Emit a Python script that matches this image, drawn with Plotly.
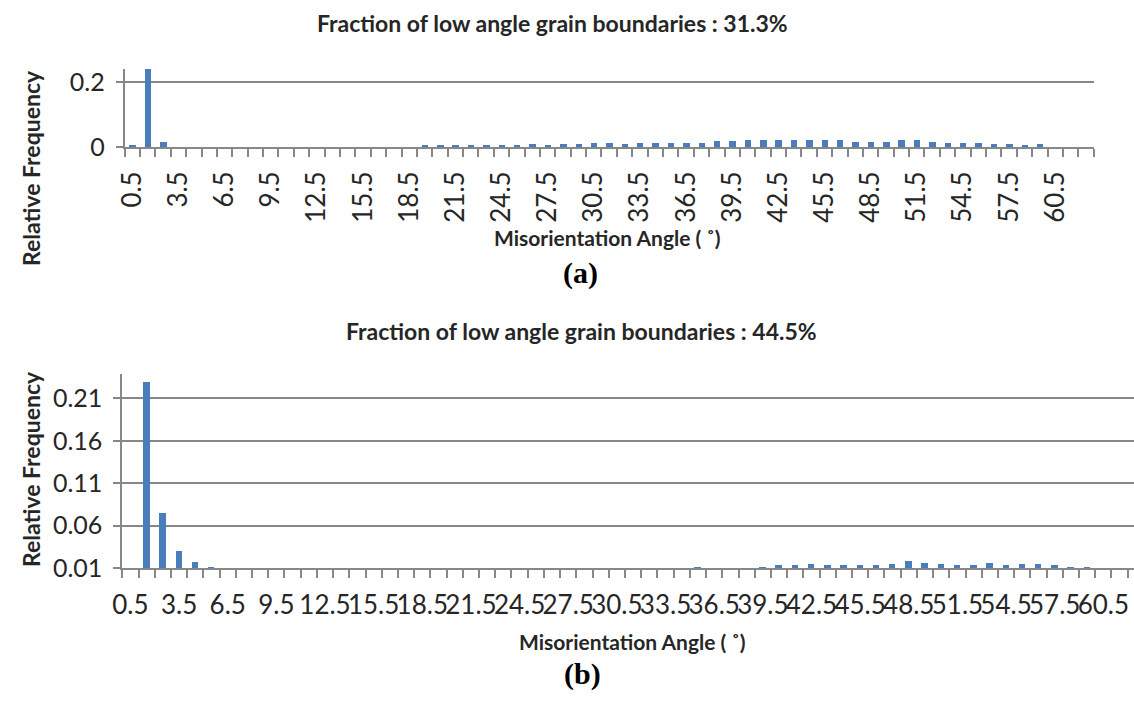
import plotly.graph_objects as go

# Misorientation angle bins (degrees), bin centres
angles = [0.5, 1.5, 2.5, 3.5, 4.5, 5.5, 6.5, 7.5, 8.5, 9.5,
          10.5, 11.5, 12.5, 13.5, 14.5, 15.5, 16.5, 17.5, 18.5, 19.5,
          20.5, 21.5, 22.5, 23.5, 24.5, 25.5, 26.5, 27.5, 28.5, 29.5,
          30.5, 31.5, 32.5, 33.5, 34.5, 35.5, 36.5, 37.5, 38.5, 39.5,
          40.5, 41.5, 42.5, 43.5, 44.5, 45.5, 46.5, 47.5, 48.5, 49.5,
          50.5, 51.5, 52.5, 53.5, 54.5, 55.5, 56.5, 57.5, 58.5, 59.5,
          60.5, 61.5, 62.5]

# Labelled ticks (every third bin)
tick_angles = [0.5, 3.5, 6.5, 9.5, 12.5, 15.5, 18.5, 21.5, 24.5, 27.5, 30.5,
               33.5, 36.5, 39.5, 42.5, 45.5, 48.5, 51.5, 54.5, 57.5, 60.5]
tick_labels = ["0.5", "3.5", "6.5", "9.5", "12.5", "15.5", "18.5", "21.5",
               "24.5", "27.5", "30.5", "33.5", "36.5", "39.5", "42.5", "45.5",
               "48.5", "51.5", "54.5", "57.5", "60.5"]

# (a) relative frequency per bin
freq_a = [0.007, 0.242, 0.015, 0, 0, 0, 0, 0, 0, 0,
          0, 0, 0, 0, 0, 0, 0, 0, 0, 0.006,
          0.006, 0.006, 0.006, 0.006, 0.006, 0.006, 0.010, 0.006, 0.010, 0.010,
          0.014, 0.014, 0.010, 0.014, 0.014, 0.014, 0.014, 0.014, 0.018, 0.018,
          0.021, 0.021, 0.021, 0.021, 0.021, 0.021, 0.021, 0.017, 0.017, 0.017,
          0.021, 0.021, 0.017, 0.013, 0.013, 0.013, 0.009, 0.009, 0.005, 0.009,
          0, 0, 0]

# (b) relative frequency per bin
freq_b = [0.006, 0.229, 0.075, 0.030, 0.017, 0.012, 0.008, 0, 0, 0,
          0, 0, 0, 0, 0, 0, 0, 0, 0, 0,
          0, 0, 0, 0, 0, 0, 0, 0, 0, 0,
          0, 0, 0, 0, 0, 0.012, 0, 0, 0, 0.012,
          0.0135, 0.0135, 0.015, 0.0135, 0.0135, 0.0135, 0.0135, 0.015, 0.018, 0.0165,
          0.015, 0.0135, 0.0135, 0.0165, 0.0135, 0.015, 0.015, 0.0135, 0.012, 0.012,
          0, 0, 0]

title_a = "Fraction of low angle grain boundaries : 31.3%"
title_b = "Fraction of low angle grain boundaries : 44.5%"
x_title = "Misorientation Angle ( \u02da)"
y_title = "Relative Frequency"

W, H = 1134, 703
BAR = "#4a7ebb"
GREY = "#878787"
FONT = "Lato"
TXT = "#262626"


def px(x):
    return x / W


def py(y):
    return 1 - y / H


fig = go.Figure()
fig.add_trace(go.Bar(x=angles, y=freq_a, width=0.42, marker_color=BAR,
                     marker_line_width=0, xaxis="x", yaxis="y", showlegend=False))
fig.add_trace(go.Bar(x=angles, y=freq_b, width=0.40, marker_color=BAR,
                     marker_line_width=0, xaxis="x2", yaxis="y2", showlegend=False))

common_x = dict(
    showline=True, linecolor=GREY, linewidth=2, showgrid=False, zeroline=False,
    tickmode="array", tickvals=tick_angles, ticktext=tick_labels, ticks="",
    tickfont=dict(family=FONT, size=26, color=TXT),
    minor=dict(ticks="outside", tickmode="linear", tick0=0, dtick=1,
               ticklen=8, tickwidth=2, tickcolor=GREY, showgrid=False),
)
common_y = dict(
    showline=True, linecolor=GREY, linewidth=2, showgrid=True, gridcolor=GREY,
    gridwidth=2, zeroline=False, ticks="outside", ticklen=7, tickwidth=2,
    tickcolor=GREY, tickfont=dict(family=FONT, size=25, color=TXT),
    ticklabelstandoff=6,
)

fig.update_layout(
    width=W, height=H, margin=dict(l=0, r=0, t=0, b=0),
    paper_bgcolor="white", plot_bgcolor="white", bargap=0,
    xaxis=dict(common_x, domain=[px(115.7), px(1093.3)], range=[0, 63],
               tickangle=-90, ticklabelstandoff=12, anchor="y"),
    yaxis=dict(common_y, domain=[py(148.3), py(68.4)], range=[0, 0.242],
               tickvals=[0, 0.2], ticktext=["0", "0.2"], anchor="x"),
    xaxis2=dict(common_x, domain=[px(113.3), 1.0], range=[0, 62.39],
                tickangle=0, ticklabelstandoff=13, anchor="y2"),
    yaxis2=dict(common_y, domain=[py(579.3), py(380.5)], range=[0.01, 0.239],
                tickvals=[0.01, 0.06, 0.11, 0.16, 0.21],
                ticktext=["0.01", "0.06", "0.11", "0.16", "0.21"], anchor="x2"),
)

title_font = dict(family=FONT, size=23, color=TXT)
axis_font = dict(family=FONT, size=21, color=TXT)
ytitle_font = dict(family=FONT, size=23, color=TXT)
serif = dict(family="Liberation Serif", size=30, color="black")


def note(text, x, y, font, angle=0):
    fig.add_annotation(text=text, x=px(x), y=py(y), xref="paper", yref="paper",
                       xanchor="center", yanchor="middle", showarrow=False,
                       font=font, textangle=angle)


note("<b>" + title_a + "</b>", 547, 22, title_font)
note("<b>" + y_title + "</b>", 21, 170, ytitle_font, -90)
note("<b>" + x_title + "</b>", 603, 241, axis_font)
note("<b>(a)</b>", 576, 277, serif)

note("<b>" + title_b + "</b>", 577, 337, title_font)
note("<b>" + y_title + "</b>", 21, 478, ytitle_font, -90)
note("<b>" + x_title + "</b>", 628, 654, axis_font)
note("<b>(b)</b>", 578, 688, serif)

fig.write_html("out.html")
